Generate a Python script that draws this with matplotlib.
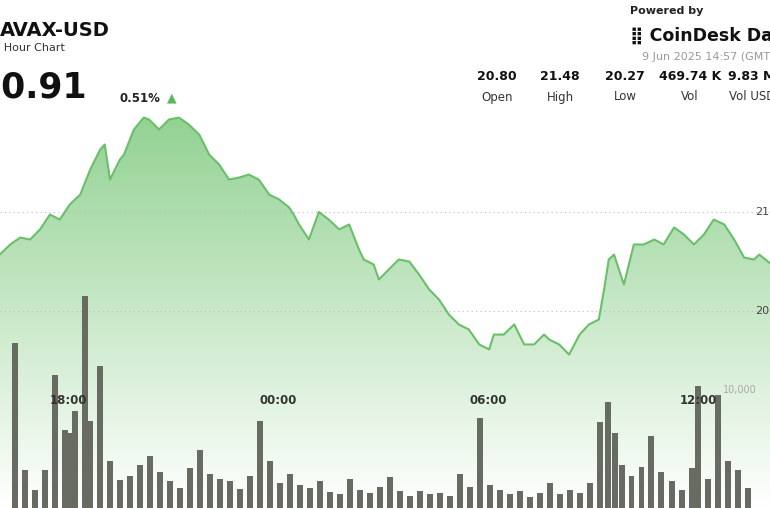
import matplotlib
matplotlib.use("Agg")
import matplotlib.pyplot as plt
import numpy as np
from matplotlib.patches import Polygon
from matplotlib.colors import LinearSegmentedColormap

# minutes relative to 18:00
price_min = [-117,-99,-82,-65,-48,-31,-14,3,21,38,55,63,72,89,96,113,130,139,156,173,190,207,225,242,259,276,293,310,327,345,362,379,387,396,413,430,447,465,482,499,507,524,533,550,567,585,602,619,636,653,670,687,705,722,730,747,765,782,799,816,825,842,859,877,893,910,919,927,936,953,970,987,1005,1021,1039,1056,1073,1090,1107,1125,1142,1159,1176,1185,1204]
price = [20.785,20.836,20.871,20.861,20.912,20.987,20.962,21.038,21.088,21.214,21.315,21.341,21.164,21.265,21.290,21.417,21.477,21.467,21.417,21.467,21.477,21.442,21.391,21.290,21.240,21.164,21.174,21.189,21.164,21.088,21.063,21.023,20.987,20.937,20.861,21.000,20.962,20.912,20.937,20.810,20.760,20.735,20.659,20.710,20.760,20.750,20.684,20.609,20.558,20.482,20.432,20.407,20.331,20.306,20.381,20.381,20.432,20.331,20.331,20.381,20.356,20.331,20.280,20.381,20.432,20.457,20.609,20.760,20.785,20.634,20.836,20.836,20.861,20.836,20.922,20.886,20.836,20.886,20.962,20.937,20.861,20.770,20.760,20.785,20.740]
vol_min = [-91,-74,-57,-40,-22,-5,3,12,29,38,55,72,89,106,123,140,157,175,192,209,226,243,260,277,295,312,329,346,363,380,397,415,432,449,466,483,500,517,535,552,569,586,603,620,637,655,672,689,706,723,740,757,775,792,809,826,843,860,877,895,912,926,938,949,966,983,1000,1017,1035,1052,1069,1080,1097,1114,1131,1149,1166]
vol = [14.6,3.4,1.6,3.4,11.8,6.9,6.6,8.6,18.8,7.7,12.6,4.2,2.5,2.8,3.8,4.6,3.2,2.4,1.8,3.5,5.1,3.0,2.6,2.4,1.7,2.8,7.7,4.2,2.2,3.0,2.0,1.8,2.4,1.4,1.2,2.6,1.6,1.3,1.9,2.7,1.5,1.1,1.5,1.2,1.3,1.1,3.0,1.9,8.0,2.0,1.6,1.2,1.5,1.0,1.3,2.2,1.2,1.6,1.3,2.2,7.6,9.4,6.6,3.8,2.8,3.6,6.4,3.2,2.4,1.6,3.5,10.8,2.6,10.0,4.2,3.4,1.8]
xticks = [0, 360, 720, 1080]
xtick_labels = ["18:00", "00:00", "06:00", "12:00"]
yticks = [21.00, 20.50]
stats_vals = ["20.80", "21.48", "20.27", "469.74 K", "9.83 M"]
stats_labels = ["Open", "High", "Low", "Vol", "Vol USD"]

fig = plt.figure(figsize=(7.7, 5.08), dpi=100)
ax = fig.add_axes([0, 0, 1, 1])
x0, x1 = -68/35*60, (770-68)/35*60
y0, y1 = 21 - 296/198, 21 + 212/198
ax.set_xlim(x0, x1); ax.set_ylim(y0, y1); ax.axis("off")

t = np.array(price_min); p = np.array(price)
grad = np.linspace(1, 0, 256).reshape(-1, 1)
cmap = LinearSegmentedColormap.from_list("g", ["#ffffff", "#93d293"])
im = ax.imshow(grad, extent=[x0, x1, y0, p.max()], aspect="auto", cmap=cmap, vmin=0, vmax=1, zorder=1)
poly = Polygon(np.column_stack([np.r_[t[0], t, t[-1]], np.r_[y0, p, y0]]), closed=True, transform=ax.transData, facecolor="none", edgecolor="none")
ax.add_patch(poly); im.set_clip_path(poly)
ax.plot(t, p, color="#6abf6a", lw=1.5, zorder=3)
for yv in yticks:
    ax.axhline(yv, color="#bbbbbb", lw=0.8, ls=(0, (1, 3)), zorder=2)
    ax.text(755/770, yv, f"{yv:.2f}", fontsize=8, color="#444", ha="left", va="center",
            transform=ax.get_yaxis_transform(), zorder=6)

vax = fig.add_axes([0, 0, 1, 1], sharex=ax)
vax.patch.set_alpha(0); vax.axis("off")
vax.set_ylim(0, 508/113*10)
vax.bar(vol_min, vol, width=10, color="#676b62", zorder=4)
vax.text(1122, 10, "10,000", fontsize=7, color="#aaa", va="bottom")
for xt, lab in zip(xticks, xtick_labels):
    vax.text(xt, 508/113*10 * (1 - 401/508), lab, fontsize=8.5, color="#333", ha="center", va="center", fontweight="bold", zorder=6)

fig.text(0.0, 1-30/508, "AVAX-USD", fontsize=14, fontweight="bold", va="center", color="#111")
fig.text(-0.018, 1-48/508, "24 Hour Chart", fontsize=8, va="center", color="#333")
fig.text(-0.03, 1-88/508, "20.91", fontsize=25, fontweight="bold", va="center", color="#111")
fig.text(120/770, 1-98/508, "0.51%", fontsize=8.5, fontweight="bold", va="center", color="#222")
fig.text(172/770, 1-98/508, "▲", fontsize=9, va="center", ha="center", color="#5cb85c")
for cx, v, l in zip([497, 560, 625, 690, 752], stats_vals, stats_labels):
    fig.text(cx/770, 1-77/508, v, fontsize=9, fontweight="bold", ha="center", va="center", color="#111")
    fig.text(cx/770, 1-97/508, l, fontsize=8.5, ha="center", va="center", color="#333")
fig.text(630/770, 1-11/508, "Powered by", fontsize=8, fontweight="bold", va="center", color="#222")
fig.text(630/770, 1-36/508, "⣿ CoinDesk Data", fontsize=12.5, fontweight="bold", va="center", color="#111")
fig.text(642/770, 1-57/508, "9 Jun 2025 14:57 (GMT)", fontsize=8, va="center", color="#999")
fig.savefig("out.png", dpi=100)
